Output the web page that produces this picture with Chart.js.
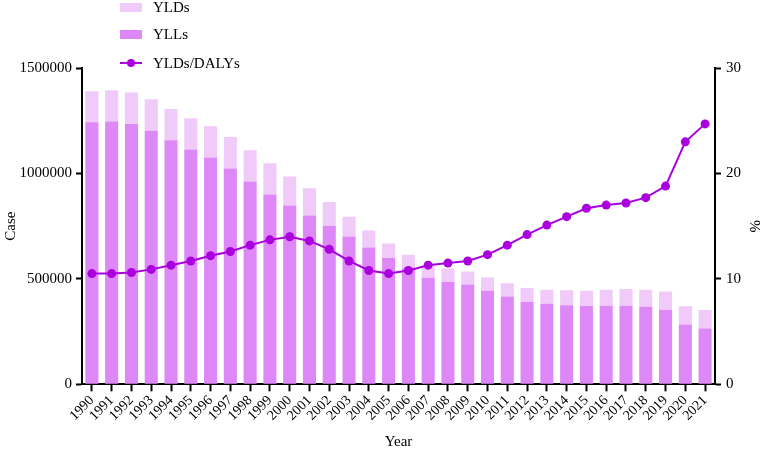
<!DOCTYPE html>
<html>
<head>
<meta charset="utf-8">
<script src="https://cdn.jsdelivr.net/npm/chart.js@4"></script>
<style>
  body { margin: 0; background: #fff; }
</style>
</head>
<body>
<canvas id="myChart" width="767" height="453"></canvas>
<script>
'use strict';

const years = [
  '1990', '1991', '1992', '1993', '1994', '1995', '1996', '1997',
  '1998', '1999', '2000', '2001', '2002', '2003', '2004', '2005',
  '2006', '2007', '2008', '2009', '2010', '2011', '2012', '2013',
  '2014', '2015', '2016', '2017', '2018', '2019', '2020', '2021',
];
const ylls = [
  1243000, 1246000, 1235000, 1203000, 1157000, 1114000, 1075000, 1024000,
  962000, 900000, 848000, 801000, 752000, 701000, 649000, 599000,
  550000, 505000, 486000, 473000, 444000, 416000, 392000, 382000,
  375000, 371000, 372000, 373000, 368000, 354000, 284000, 265000,
];
const ylds = [
  147000, 148000, 149000, 149000, 148000, 148000, 149000, 149000,
  148000, 148000, 138000, 129000, 113000, 94000, 80000, 69000,
  64000, 55000, 63000, 62000, 62000, 63000, 65000, 66000,
  71000, 73000, 76000, 79000, 81000, 86000, 86000, 87000,
];
const ratio = [
  10.5, 10.5, 10.6, 10.9, 11.3, 11.7, 12.2, 12.6,
  13.2, 13.7, 14.0, 13.6, 12.8, 11.7, 10.8, 10.5,
  10.8, 11.3, 11.5, 11.7, 12.3, 13.2, 14.2, 15.1,
  15.9, 16.7, 17.0, 17.2, 17.7, 18.8, 23.0, 24.7,
];

const colYld = 'rgb(240, 202, 248)';
const colYll = 'rgb(221, 136, 246)';
const colLine = 'rgb(170, 0, 222)';
const fontFam = '"Liberation Serif", "Times New Roman", serif';

// legend drawn by hand, stacked vertically in the top-left corner
const legendPlugin = {
  id: 'stackLegend',
  afterDraw(chart) {
    const c = chart.ctx;
    c.save();
    c.font = '15px ' + fontFam;
    c.textBaseline = 'middle';
    const x0 = 120, x1 = 142, tx = 153;
    // YLDs
    c.fillStyle = colYld;
    c.fillRect(x0, 3, x1 - x0, 9);
    c.fillStyle = '#000';
    c.fillText('YLDs', tx, 8);
    // YLLs
    c.fillStyle = colYll;
    c.fillRect(x0, 30, x1 - x0, 9);
    c.fillStyle = '#000';
    c.fillText('YLLs', tx, 35);
    // ratio line
    c.strokeStyle = colLine;
    c.lineWidth = 2;
    c.beginPath();
    c.moveTo(x0, 63);
    c.lineTo(x1, 63);
    c.stroke();
    c.fillStyle = colLine;
    c.beginPath();
    c.arc((x0 + x1) / 2, 63, 4, 0, Math.PI * 2);
    c.fill();
    c.fillStyle = '#000';
    c.fillText('YLDs/DALYs', tx, 64);
    c.restore();
  },
};

Chart.defaults.font.family = fontFam;
Chart.defaults.font.size = 15;
Chart.defaults.color = '#000';

const ctx = document.getElementById('myChart');
new Chart(ctx, {
  type: 'bar',
  data: {
    labels: years,
    datasets: [
      {
        type: 'line',
        label: 'YLDs/DALYs',
        data: ratio,
        yAxisID: 'y1',
        borderColor: colLine,
        backgroundColor: colLine,
        borderWidth: 2,
        pointRadius: 4.5,
        pointBackgroundColor: colLine,
        pointBorderWidth: 0,
        tension: 0,
        order: 0,
      },
      {
        label: 'YLLs',
        data: ylls,
        backgroundColor: colYll,
        yAxisID: 'y',
        stack: 'daly',
        categoryPercentage: 1,
        barPercentage: 0.66,
        order: 1,
      },
      {
        label: 'YLDs',
        data: ylds,
        backgroundColor: colYld,
        yAxisID: 'y',
        stack: 'daly',
        categoryPercentage: 1,
        barPercentage: 0.66,
        order: 1,
      },
    ],
  },
  options: {
    responsive: false,
    animation: false,
    layout: { padding: { top: 68, left: 0, right: 0, bottom: 0 } },
    plugins: {
      legend: { display: false },
      tooltip: { enabled: false },
    },
    scales: {
      x: {
        stacked: true,
        offset: true,
        // rotated year labels should not push the plot inwards
        afterFit: (scale) => {
          scale.paddingLeft = 0;
          scale.paddingRight = 0;
        },
        grid: {
          display: true,
          drawOnChartArea: false,
          tickLength: 7,
          tickWidth: 2,
          tickColor: '#000',
          offset: false,
        },
        border: { color: '#000', width: 2 },
        ticks: {
          autoSkip: false,
          minRotation: 45,
          maxRotation: 45,
          padding: 1,
          font: { size: 14 },
        },
        title: { display: true, text: 'Year', padding: { top: 8, bottom: 2 } },
      },
      y: {
        stacked: true,
        position: 'left',
        min: 0,
        max: 1500000,
        afterFit: (scale) => {
          scale.width = 82;
        },
        ticks: {
          stepSize: 500000,
          padding: 4,
          callback: (v) => String(v),
        },
        grid: {
          drawOnChartArea: false,
          tickLength: 6,
          tickWidth: 2,
          tickColor: '#000',
        },
        border: { color: '#000', width: 2 },
        title: { display: true, text: 'Case', padding: { top: 2, bottom: 2 } },
      },
      y1: {
        position: 'right',
        min: 0,
        max: 30,
        afterFit: (scale) => {
          scale.width = 52;
        },
        ticks: { stepSize: 10, padding: 5 },
        grid: {
          drawOnChartArea: false,
          tickLength: 6,
          tickWidth: 2,
          tickColor: '#000',
        },
        border: { color: '#000', width: 2 },
        title: { display: true, text: '%', padding: { top: 4, bottom: 2 } },
      },
    },
  },
  plugins: [legendPlugin],
});
</script>
</body>
</html>
